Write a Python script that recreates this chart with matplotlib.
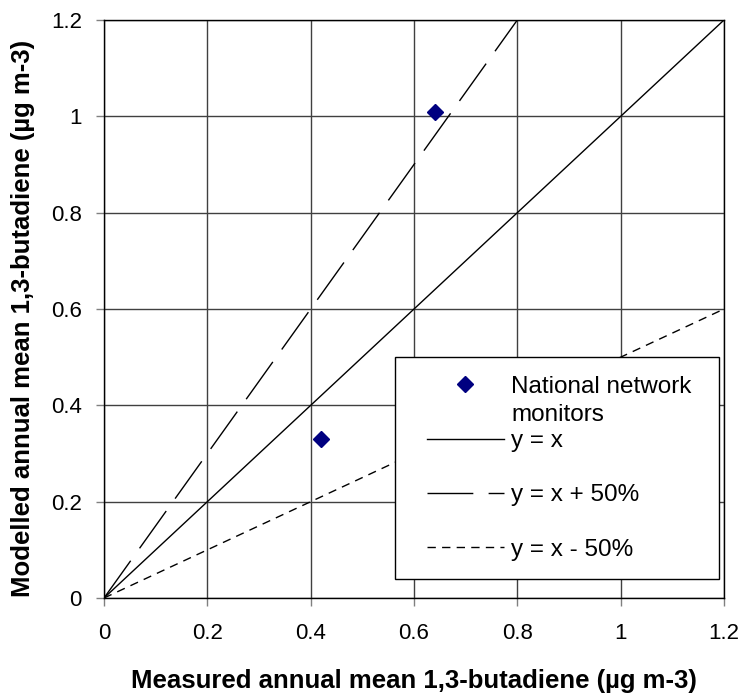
import numpy as np
import matplotlib
matplotlib.use('Agg')
import matplotlib.pyplot as plt
from matplotlib.lines import Line2D
from matplotlib.legend_handler import HandlerLine2D

plt.rcParams['font.family'] = ['Liberation Sans', 'DejaVu Sans']

# measured vs modelled annual mean 1,3-butadiene (ug m-3)
measured = [0.42, 0.64]
modelled = [0.33, 1.01]

ref_x = [0.0, 1.2]
ticks = [0, 0.2, 0.4, 0.6, 0.8, 1.0, 1.2]
tick_labels = ['0', '0.2', '0.4', '0.6', '0.8', '1', '1.2']

fig = plt.figure(figsize=(7.45, 6.97), dpi=100)
ax = fig.add_axes([0.1396, 0.142, 0.8322, 0.8293])

ax.set_xlim(0, 1.2)
ax.set_ylim(0, 1.2)
ax.set_xticks(ticks)
ax.set_yticks(ticks)
ax.set_xticklabels(tick_labels)
ax.set_yticklabels(tick_labels)
ax.grid(True, color='#404040', linewidth=1.0)
ax.set_axisbelow(True)
ax.tick_params(direction='out', length=6, width=1, color='#808080',
               labelsize=16, pad=10)
ax.tick_params(axis='x', pad=12)
for s in ax.spines.values():
    s.set_color('black')
    s.set_linewidth(1.0)

x = np.array(ref_x)
pts, = ax.plot(measured, modelled, linestyle='none', marker='D', markersize=8,
               color='#000080', zorder=5)
l1, = ax.plot(x, x, color='black', linewidth=1.0)
l2, = ax.plot(x, x * 1.5, color='black', linewidth=1.0, dashes=(33, 11))
l3, = ax.plot(x, x * 0.5, color='black', linewidth=1.0, dashes=(6, 4.5))

# excel style legend: entries evenly spaced, long label spills onto next line
fs = 17.5
leg = ax.legend([pts, l1, l2, l3],
                ['National network', 'y = x', 'y = x + 50%', 'y = x - 50%'],
                loc='lower left', bbox_to_anchor=(0.469, 0.033, 0.523, 0.384),
                mode='expand', fontsize=fs, frameon=True, fancybox=False,
                shadow=False, framealpha=1, edgecolor='black',
                handlelength=3.73, handletextpad=0.3, labelspacing=1.33,
                borderpad=0.75, borderaxespad=0,
                handler_map={Line2D: HandlerLine2D(xpad=0.58)})
leg.get_frame().set_linewidth(1.0)
ax.annotate('monitors', xy=(0, 0), xycoords=leg.get_texts()[0],
            xytext=(0, -28), textcoords='offset pixels',
            ha='left', va='bottom', fontsize=fs, zorder=6)

ax.set_xlabel('Measured annual mean 1,3-butadiene (µg m-3)',
              fontsize=18.5, fontweight='bold', labelpad=18)
ax.set_ylabel('Modelled annual mean 1,3-butadiene (µg m-3)',
              fontsize=18.5, fontweight='bold')
ax.yaxis.set_label_coords(-0.112, 0.483)

fig.savefig('out.png', dpi=100)
